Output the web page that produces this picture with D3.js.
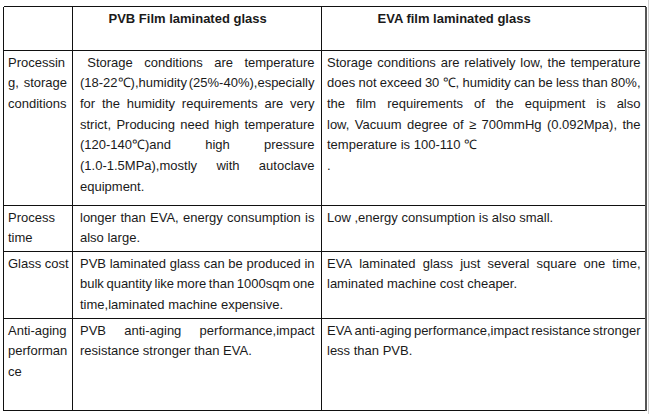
<!DOCTYPE html>
<html>
<head>
<meta charset="utf-8">
<script src="https://cdn.jsdelivr.net/npm/d3@7"></script>
<style>
  html, body { margin: 0; padding: 0; background: #fff; }
  svg { display: block; }
</style>
</head>
<body>
<script>
// Table content: each cell is a list of paragraphs, each paragraph a list of lines
const headers = ["", "PVB Film laminated glass", "EVA film laminated glass"];

const categories = [
  [["Processin", "g, storage", "conditions"]],
  [["Process", "time"]],
  [["Glass cost"]],
  [["Anti-aging", "performan", "ce"]]
];

const pvbText = [
  [[" Storage conditions are temperature",
    "(18-22\u2103),humidity (25%-40%),especially",
    "for the humidity requirements are very",
    "strict, Producing need high temperature",
    "(120-140\u2103)and high pressure",
    "(1.0-1.5MPa),mostly with autoclave",
    "equipment."]],
  [["longer than EVA, energy consumption is",
    "also large."]],
  [["PVB laminated glass can be produced in",
    "bulk quantity like more than 1000sqm one",
    "time,laminated machine expensive."]],
  [["PVB anti-aging performance,impact",
    "resistance stronger than EVA."]]
];

const evaText = [
  [["Storage conditions are relatively low, the temperature",
    "does not exceed 30 \u2103, humidity can be less than 80%,",
    "the film requirements of the equipment is also",
    "low, Vacuum degree of \u2265 700mmHg (0.092Mpa), the",
    "temperature is 100-110 \u2103"],
   ["."]],
  [["Low ,energy consumption is also small."]],
  [["EVA laminated glass just several square one time,",
    "laminated machine cost cheaper."]],
  [["EVA anti-aging performance,impact resistance stronger",
    "less than PVB."]]
];

// Layout
const W = 650, H = 417;
const colEdges = [3.5, 72.5, 321.5, 645.5];
const rowEdges = [6.5, 50.5, 205.5, 251.5, 318.5, 410.5];
const pads = [[4.5, 5.5], [7.5, 7], [5.5, 5]];
const headerIndent = [0, 36, 56];
const lineH = 20.7;
const baseOff = 16;
const font = "'Liberation Sans', Arial, Helvetica, sans-serif";
const fontSize = 13;

const svg = d3.select("body").append("svg")
  .attr("width", W).attr("height", H);

// measuring element, removed once the layout is done
const meas = svg.append("text")
  .attr("font-family", font).attr("font-size", fontSize)
  .attr("visibility", "hidden");
function textW(s) {
  meas.text(s);
  return meas.node().getComputedTextLength();
}
const spaceW = textW("a a") - textW("aa");

const columns = [categories, pvbText, evaText];

const body = svg.append("g").attr("fill", "#1a1a1a")
  .attr("font-family", font).attr("font-size", fontSize);

columns.forEach((col, ci) => {
  const left = colEdges[ci] + pads[ci][0];
  const right = colEdges[ci + 1] - pads[ci][1];
  col.forEach((cell, ri) => {
    const top = rowEdges[ri + 1];
    let li = 0;
    cell.forEach(par => {
      par.forEach((line, k) => {
        const lead = line.length - line.replace(/^ +/, "").length;
        const words = line.trim().split(/ +/);
        const widths = words.map(textW);
        const indent = lead * 2 * spaceW;
        const sum = d3.sum(widths);
        // justify every line except the last one of a paragraph
        const justify = k < par.length - 1 && words.length > 1;
        const gap = justify ? (right - left - indent - sum) / (words.length - 1) : spaceW;
        let x = left + indent;
        const y = top + baseOff + li * lineH;
        words.forEach((w, wi) => {
          body.append("text").attr("x", x).attr("y", y).text(w);
          x += widths[wi] + gap;
        });
        li++;
      });
    });
  });
});

meas.remove();

// headers
svg.append("g").selectAll("text")
  .data(headers.map((h, i) => ({ h, i })).filter(d => d.h))
  .join("text")
  .attr("x", d => colEdges[d.i] + headerIndent[d.i])
  .attr("y", rowEdges[0] + baseOff)
  .attr("font-family", font)
  .attr("font-size", fontSize)
  .attr("font-weight", "bold")
  .attr("fill", "#1a1a1a")
  .text(d => d.h);

// grid lines
const grid = svg.append("g").attr("shape-rendering", "crispEdges");
grid.selectAll("line.h")
  .data(rowEdges)
  .join("line")
  .attr("class", "h")
  .attr("x1", colEdges[0]).attr("x2", colEdges[colEdges.length - 1])
  .attr("y1", d => d).attr("y2", d => d)
  .attr("stroke", "#111").attr("stroke-width", 1);

grid.selectAll("line.v")
  .data(colEdges.slice(0, -1))
  .join("line")
  .attr("class", "v")
  .attr("x1", d => d).attr("x2", d => d)
  .attr("y1", rowEdges[0]).attr("y2", rowEdges[rowEdges.length - 1])
  .attr("stroke", "#111").attr("stroke-width", 1);

// right border is a heavier grey with a faint shadow line
grid.append("line")
  .attr("x1", colEdges[3]).attr("x2", colEdges[3])
  .attr("y1", rowEdges[0]).attr("y2", rowEdges[rowEdges.length - 1])
  .attr("stroke", "#555").attr("stroke-width", 2);
grid.append("line")
  .attr("x1", colEdges[3] + 3).attr("x2", colEdges[3] + 3)
  .attr("y1", 0).attr("y2", rowEdges[rowEdges.length - 1] + 3)
  .attr("stroke", "#d0d0d0").attr("stroke-width", 1);
</script>
</body>
</html>
